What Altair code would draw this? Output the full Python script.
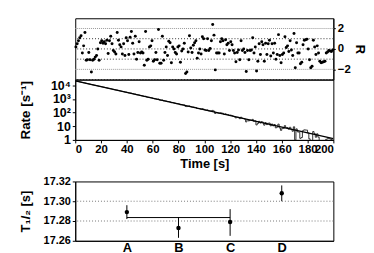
import altair as alt
import pandas as pd

# ---------------- data ----------------
# residuals R per 1-s bin (0..200 s)
resid = [0.2, 0.5, 0.8, 1.1, 1.3, -0.4, 0.3, 1.6, -1.1, -1.05, -0.35, -1.05, -2.25, -1.1, -1.0, -0.8,
         -0.65, 0.0, -1.1, 0.6, 0.8, 0.55, 0.7, 0.5, 0.85, -0.45, 0.8, 1.25, 0.5, -0.15, -0.3, -0.5,
         1.6, 0.85, 0.4, 0.2, -0.5, 0.5, -0.65, 1.1, 0.8, -0.55, 1.15, 1.7, 0.55, -0.5, 1.25, -1.0, -0.35,
         0.7, -0.4, -0.3, -0.4, -1.6, 1.7, -1.1, -1.0, 0.2, 0.3, 0.8, -1.2, -1.05, -0.35, -1.05, 1.9,
         -1.4, -1.4, 1.25, -1.1, -0.35, 0.2, -0.65, 0.75, 0.6, -1.35, 0.2, 0.0, -0.35, -0.5, 0.2, 0.3,
         -1.3, -0.2, 0.0, 0.55, -2.4, -2.25, -0.3, 1.3, 0.1, -0.35, 0.35, 0.6, 0.8, -0.9, -0.4, 0.0, -0.5,
         1.2, 1.0, -0.1, -0.15, 1.0, -0.15, 0.05, 0.8, 2.4, 1.35, -2.05, -0.4, -0.4, -0.4, 0.7, 1.0,
         0.8, -0.5, 0.9, 0.4, 0.55, -0.15, 0.7, 0.4, -0.15, -0.4, -1.25, -0.35, -0.1, -1.05, 0.8, -0.15,
         0.0, -0.35, -2.2, -0.15, -1.05, -0.15, -0.1, 1.1, -0.4, 0.2, -2.15, -1.2, 0.5, -0.55, 0.7, 0.4,
         -1.2, 0.55,
         -0.55, 0.5, 0.85, -0.7, 0.5, -0.4, 0.55, -1.0, -0.55, 1.4, -0.65, -1.35, -0.55, -0.4, 1.2, 0.15,
         0.3, -0.25, 0.8, -0.1, -0.65, 1.5, -1.85, 0.6, -0.4, -0.4, -1.45, -1.3, 0.4, 0.85, 0.9, 0.95,
         0.0, -1.05, -1.85, -1.7, 0.85, 0.2, -0.55, 0.3, -0.4, -1.2, -1.35, -1.3, -1.25, -1.2, -0.4, -0.3,
         -0.15, -0.2, -0.25, -0.1]

# measured rate per 1-s bin [1/s]  (0.5 = empty bin, below the axis)
rate = [20420, 19500, 18620, 17780, 16970, 15950, 15280, 14710, 13700, 13050, 12510, 11840, 11150,
        10740, 10230, 9760, 9310, 8930, 8400, 8150, 7790, 7400, 7060, 6710, 6420, 6020, 5830, 5590,
        5270, 4970, 4730, 4490, 4410, 4160, 3940, 3740, 3520, 3410, 3180, 3130, 2960, 2750, 2710, 2610,
        2430, 2270, 2240, 2030, 1970,
        1920, 1780, 1700, 1615, 1490, 1545, 1370, 1306, 1286, 1228, 1187, 1065, 1019, 992, 923, 968,
        826, 786, 822, 719, 704, 685, 631, 636, 602, 528, 538, 508, 476, 450, 443, 424, 372, 376, 362,
        355, 285, 273, 293, 305, 272, 252, 251, 243, 234, 199, 196, 192, 176,
        190, 179, 157, 149, 156, 135, 131, 133, 144, 127, 86, 98, 93.4, 89, 95, 93.4, 87.4, 72, 80.5,
        72.6, 70.5, 61.7, 65.3, 60.1, 53.3, 48.9, 40.5, 44.6, 44.1, 35.8, 45.7, 37.8, 36.9, 33.0, 20.7,
        31.0, 24.5, 28.1, 27.0, 31.8, 23.0, 24.8, 12.5, 16.0, 22.9, 17.2, 21.7, 19.5, 12.0, 18.3,
        13.2, 16.5, 17.1, 10.7, 14.5, 10.7, 13.4, 7.6, 8.6, 14.3, 7.5, 5.0, 7.0, 7.0, 11.1, 7.8, 7.9,
        6.1, 8.4, 5.9, 4.3, 9.1, 1.0, 6.4, 3.9, 3.7, 1.3, 1.5, 4.7, 5.4, 5.3, 5.2, 3.25, 1.2, 0.5, 0.5,
        4.1, 2.9, 1.57, 2.8, 1.6, 0.5, 0.5, 0.5, 0.5, 0.5, 1.1, 1.2, 1.3, 1.2, 1.06, 1.2]

n_bins = 200
bin_width = 1.0

fit_time = [0, 200]
fit_rate = [20400, 1.26]

categories = ["A", "B", "C", "D"]
cat_pos = [1, 2, 3, 4]
t_half = [17.289, 17.273, 17.279, 17.308]
t_half_lo = [17.282, 17.263, 17.265, 17.300]
t_half_hi = [17.296, 17.284, 17.292, 17.316]
mean_span = [1, 3]
mean_value = 17.2835

r_grid_dark = [-3, -1, 0, 1]
r_grid_light = [-2, 2]
t_grid = [17.28, 17.30]
rate_ticks = [1, 10, 100, 1000, 10000]
rate_tick_text = ["1", "10", "10²", "10³", "10⁴"]
time_ticks = [0, 20, 40, 60, 80, 100, 120, 140, 160, 180, 200]
t_ticks = [17.26, 17.28, 17.30, 17.32]

# ---------------- tables ----------------
res_df = pd.DataFrame({"t": [i * bin_width + bin_width / 2 for i in range(n_bins)], "R": resid[:n_bins]})
hist_df = pd.DataFrame({"t": [i * bin_width for i in range(n_bins)] + [n_bins * bin_width],
                        "rate": rate[:n_bins] + [rate[n_bins - 1]]})
fit_df = pd.DataFrame({"t": fit_time, "rate": fit_rate})
rgd_df = pd.DataFrame({"R": r_grid_dark})
rgl_df = pd.DataFrame({"R": r_grid_light})
tg_df = pd.DataFrame({"T": t_grid})
th_df = pd.DataFrame({"pos": cat_pos, "cat": categories, "T": t_half, "lo": t_half_lo, "hi": t_half_hi})
mean_df = pd.DataFrame({"x1": [mean_span[0]], "x2": [mean_span[1]], "T": [mean_value]})

FONT = "Liberation Sans"
W = 261

xscale = alt.Scale(domain=[0, 200], nice=False, zero=False)

# ---------------- residual panel ----------------
r_scale = alt.Scale(domain=[-3, 3], nice=False)
r_axis = alt.Axis(orient="right", values=[-2, 0, 2], title="R", grid=False,
                  tickSize=2, labelPadding=2, titlePadding=2, titleAngle=90,
                  labelFontSize=11.5, titleFontSize=13)
res_grid_d = alt.Chart(rgd_df).mark_rule(color="#333333", strokeDash=[1, 2], strokeWidth=1).encode(
    y=alt.Y("R:Q", scale=r_scale, axis=r_axis)
)
res_grid_l = alt.Chart(rgl_df).mark_rule(color="#999999", strokeDash=[1, 1], strokeWidth=1).encode(
    y=alt.Y("R:Q", scale=r_scale, axis=r_axis)
)
res_pts = alt.Chart(res_df).mark_circle(color="black", size=9, opacity=1).encode(
    x=alt.X("t:Q", scale=xscale, axis=None),
    y=alt.Y("R:Q", scale=r_scale, axis=r_axis),
)
res_chart = alt.layer(res_grid_d, res_grid_l, res_pts).properties(width=W, height=62)

# ---------------- rate panel ----------------
rate_scale = alt.Scale(type="log", domain=[1, 25700], nice=False)
label_expr = " : ".join(
    f"datum.value == {v} ? '{s}'" for v, s in zip(rate_ticks, rate_tick_text)
) + " : ''"
time_axis = alt.Axis(values=time_ticks, title="Time [s]", tickSize=3, labelPadding=1,
                     titlePadding=2, grid=False, labelOverlap=False, labelFontSize=11.5,
                     titleFontSize=13)
rate_axis = alt.Axis(values=rate_ticks, labelExpr=label_expr, title="Rate [s⁻¹]",
                     tickSize=3, grid=False, labelPadding=2, titlePadding=18,
                     labelOverlap=False, labelFontSize=12.5, titleFontSize=13.5)
hist = alt.Chart(hist_df).mark_line(interpolate="step-after", color="#333333", strokeWidth=1, clip=True).encode(
    x=alt.X("t:Q", scale=xscale, axis=time_axis),
    y=alt.Y("rate:Q", scale=rate_scale, axis=rate_axis),
)
fit = alt.Chart(fit_df).mark_line(color="black", strokeWidth=1.3, clip=True).encode(
    x=alt.X("t:Q", scale=xscale, axis=time_axis),
    y=alt.Y("rate:Q", scale=rate_scale, axis=rate_axis),
)
rate_chart = alt.layer(hist, fit).properties(width=W, height=61)

# ---------------- half-life panel ----------------
t_scale = alt.Scale(domain=[17.26, 17.32], nice=False, zero=False)
c_scale = alt.Scale(domain=[0, 5], nice=False)
cat_expr = "[" + ",".join(f"'{c}'" for c in categories) + "][datum.value - 1]"
t_axis = alt.Axis(values=t_ticks, format=".2f", title="T₁/₂ [s]",
                  tickSize=3, grid=False, labelPadding=2, titlePadding=11,
                  labelOverlap=False, labelFontSize=11, titleFontSize=13)
c_axis = alt.Axis(values=cat_pos, labelExpr=cat_expr, title=None, ticks=False,
                  grid=False, labelPadding=1, labelOverlap=False, labelFontSize=13)
t_grid_layer = alt.Chart(tg_df).mark_rule(color="#777777", strokeDash=[1, 2], strokeWidth=1).encode(
    y=alt.Y("T:Q", scale=t_scale, axis=t_axis)
)
mean_line = alt.Chart(mean_df).mark_rule(color="black", strokeWidth=1).encode(
    x=alt.X("x1:Q", scale=c_scale, axis=c_axis), x2="x2:Q",
    y=alt.Y("T:Q", scale=t_scale, axis=t_axis)
)
err = alt.Chart(th_df).mark_rule(color="black", strokeWidth=1).encode(
    x=alt.X("pos:Q", scale=c_scale, axis=c_axis),
    y=alt.Y("lo:Q", scale=t_scale, axis=t_axis), y2="hi:Q"
)
pts = alt.Chart(th_df).mark_circle(color="black", size=20, opacity=1).encode(
    x=alt.X("pos:Q", scale=c_scale, axis=c_axis),
    y=alt.Y("T:Q", scale=t_scale, axis=t_axis),
)
th_chart = alt.layer(t_grid_layer, mean_line, err, pts).properties(width=W, height=60)

top = alt.vconcat(res_chart, rate_chart, spacing=0, bounds="flush")
chart = alt.vconcat(top, th_chart, spacing=4).properties(
    padding={"left": 10, "top": 8, "right": 0, "bottom": 0}
).configure_view(
    stroke="black", strokeWidth=1
).configure_axis(
    labelFont=FONT, titleFont=FONT, labelFontWeight="bold", titleFontWeight="bold",
    labelColor="black", titleColor="black", domainColor="black", tickColor="black",
    labelOverlap=False
)

chart.save("out.html", embed_options={"renderer": "svg", "actions": False})
